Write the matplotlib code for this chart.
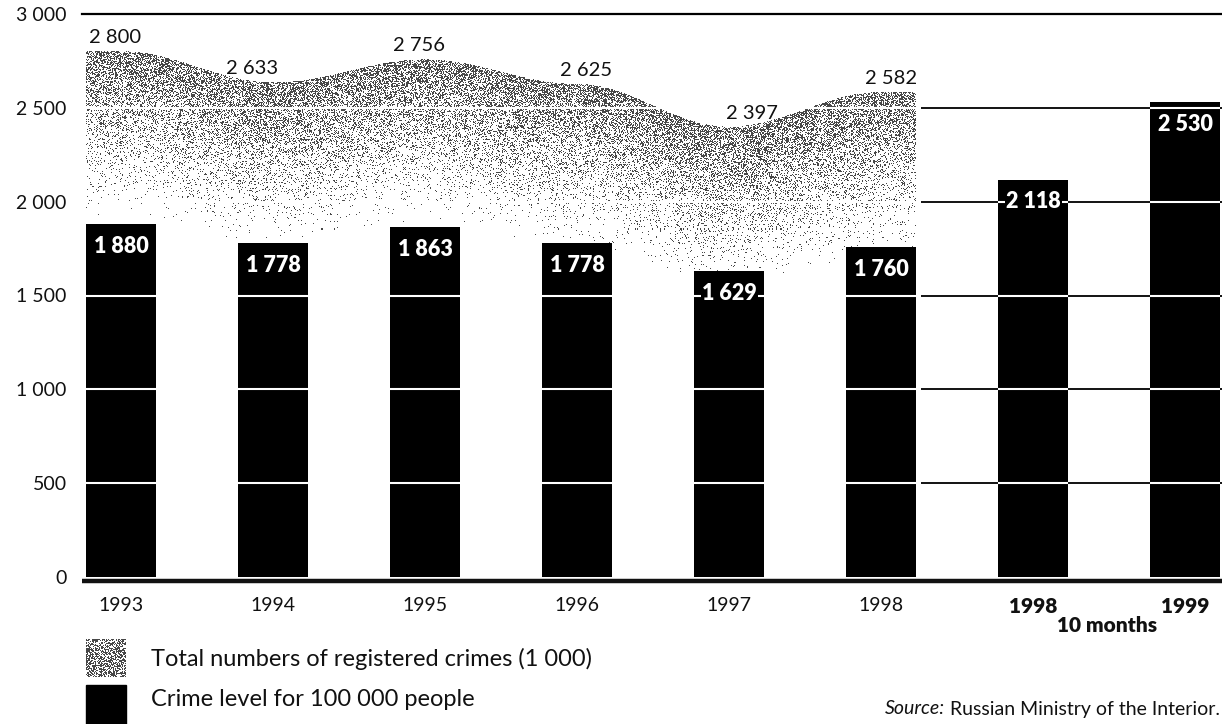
import numpy as np
import matplotlib
matplotlib.use("Agg")
import matplotlib.pyplot as plt
import matplotlib.transforms as mtransforms

# data
years = ["1993", "1994", "1995", "1996", "1997", "1998", "1998", "1999"]
crime_level = [1880, 1778, 1863, 1778, 1629, 1760, 2118, 2530]   # per 100 000 people
total_crimes = [2800, 2633, 2756, 2625, 2397, 2582]              # thousands, 1993-1998
y_ticks = [0, 500, 1000, 1500, 2000, 2500, 3000]

# small nudges of the total labels (pixels), as in the original
total_label_dx = [-6, -21, -6, 9, 23, 10]


def fmt(v):
    return f"{v:,}".replace(",", " ")


def grain(h, w, ox=0, oy=0):
    # deterministic hash -> threshold map, gives a printed-stipple look
    py, px = np.mgrid[oy:oy + h, ox:ox + w]
    v = np.sin(px * 12.9898 + py * 78.233) * 43758.5453
    return v - np.floor(v)


plt.rcParams['font.family'] = ['Lato', 'DejaVu Sans']
ink = '#111111'
dot = 0.28

W, H = 1222, 724
fig = plt.figure(figsize=(W / 100, H / 100), dpi=100)
# axes: left edge 82px, 0 at y=577px, 3000 at y=14px
ax = fig.add_axes([82 / W, (H - 577) / H, (W - 82) / W, 563 / H])
ax.set_xlim(-0.257, 7.243)
ax.set_ylim(0, 3000)
for s in ax.spines.values():
    s.set_visible(False)

x = np.arange(len(years))
bw = 0.46

# ---- stippled area for total registered crimes ----
x0, x1 = -bw / 2, len(total_crimes) - 1 + bw / 2
y0, y1 = 800, 2900
ncols = int(round((x1 - x0) * 152))
nrows = int(round((y1 - y0) * 563 / 3000))
xs = np.linspace(x0, x1, ncols)
ys = np.linspace(y0, y1, nrows)

# smooth (cosine) edge through the yearly values
vals = np.array(total_crimes, dtype=float)
xi = np.clip(xs, 0, len(vals) - 1)
idx = np.minimum(np.floor(xi).astype(int), len(vals) - 2)
w = (1 - np.cos(np.pi * (xi - idx))) / 2
top = vals[idx] * (1 - w) + vals[idx + 1] * w

X, Y = np.meshgrid(top, ys)
depth = X - Y
dens = np.where(depth < 0, 0, 0.56 * np.clip(1 - depth / 900, 0, 1) ** 1.6)
on = dens > grain(nrows, ncols)

img = np.zeros((nrows, ncols, 4))
img[..., :3] = dot
img[..., 3] = on
ax.imshow(img, extent=(x0, x1, y0, y1), origin='lower', interpolation='nearest',
          aspect='auto', zorder=1)

# ---- bars ----
ax.bar(x, crime_level, width=bw, color='black', zorder=2)

grid = y_ticks[1:-1]
split = 5 + bw / 2 + 0.03
# white lines through the stipple and the first six bars
ax.hlines(grid, -0.257, split, color='white', lw=1.5, zorder=3)
# black lines in the open area on the right
ax.hlines(grid, split, 7.243, color='black', lw=1.3, zorder=1)
for i in (6, 7):
    lv = [g for g in grid if g < crime_level[i]]
    ax.hlines(lv, i - bw / 2, i + bw / 2, color='white', lw=1.5, zorder=3)

# top line and thick baseline
ax.axhline(3000, color='black', lw=1.6, zorder=4, clip_on=False)
base_tr = mtransforms.offset_copy(ax.get_xaxis_transform(), fig=fig, y=-4, units='dots')
ax.plot([0, 1], [0, 0], transform=mtransforms.blended_transform_factory(ax.transAxes, base_tr),
        color=ink, lw=3.2, solid_capstyle='butt', zorder=5, clip_on=False)

# value labels inside the bars (black box hides the white line behind the text)
for i, v in enumerate(crime_level):
    ax.annotate(fmt(v), (i, v), xytext=(0, -8.5), textcoords='offset points',
                ha='center', va='top', color='white', fontsize=15.5, fontweight='heavy',
                zorder=6, bbox=dict(boxstyle='square,pad=0.05', fc='black', ec='none'))

# total labels above the stipple
for i, v in enumerate(total_crimes):
    ax.annotate(fmt(v), (i, v), xytext=(total_label_dx[i] * 0.72, 4), textcoords='offset points',
                ha='center', va='bottom', color=ink, fontsize=14.5, zorder=6)

# ticks
ax.set_yticks(y_ticks)
ax.set_yticklabels([fmt(t) for t in y_ticks])
ax.set_xticks(x)
ax.set_xticklabels(years)
ax.tick_params(axis='y', length=0, pad=11, labelsize=14, labelcolor=ink)
ax.tick_params(axis='x', length=0, pad=14.5, labelsize=14, labelcolor=ink)
for lab in ax.get_xticklabels()[6:]:
    lab.set_fontweight('heavy')
    lab.set_fontsize(15)

ax.text(6.49, -0.087, "10 months", transform=ax.get_xaxis_transform(), ha='center',
        va='center', fontsize=15, fontweight='heavy', color=ink)

# ---- legend ----
lh, lwd = 38, 40
lax = fig.add_axes([86 / W, (H - 677) / H, lwd / W, lh / H])
limg = np.zeros((lh, lwd, 4))
limg[..., :3] = dot
limg[..., 3] = 0.55 > grain(lh, lwd, 7, 3)
lax.imshow(limg, interpolation='nearest', aspect='auto')
lax.axis('off')

fig.patches.append(plt.Rectangle((86 / W, 0), 40 / W, (H - 685) / H, transform=fig.transFigure,
                                 color='black'))

fig.text(151 / W, (H - 659) / H, "Total numbers of registered crimes (1 000)",
         fontsize=17, va='center', ha='left', color=ink)
fig.text(151 / W, (H - 700) / H, "Crime level for 100 000 people",
         fontsize=17, va='center', ha='left', color=ink)

src = fig.text(1220 / W, (H - 709) / H, "Russian Ministry of the Interior.",
               fontsize=14, va='center', ha='right', color=ink)
bb = src.get_window_extent(fig.canvas.get_renderer())
fig.text((bb.x0 - 5) / W, (H - 709) / H, "Source:", fontsize=14, style='italic',
         va='center', ha='right', color=ink)

fig.savefig("out.png", dpi=100)
